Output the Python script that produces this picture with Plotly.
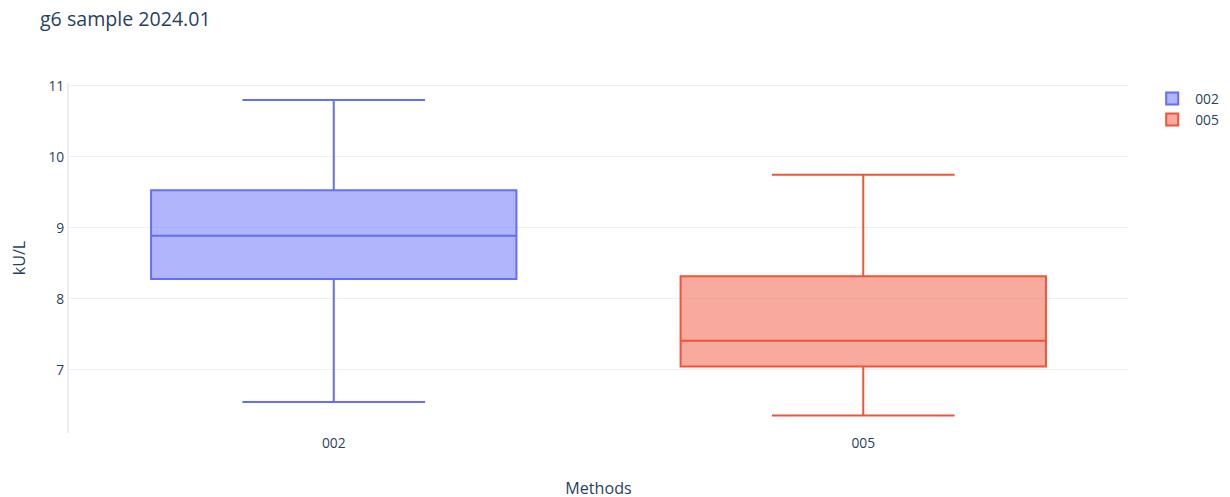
import plotly.graph_objects as go

methods = ["002", "005"]
q1_vals = [8.28, 7.05]
median_vals = [8.89, 7.41]
q3_vals = [9.53, 8.32]
lower_vals = [6.55, 6.36]
upper_vals = [10.80, 9.75]

fig = go.Figure()
for i, m in enumerate(methods):
    fig.add_trace(go.Box(
        name=m,
        x=[m],
        q1=[q1_vals[i]],
        median=[median_vals[i]],
        q3=[q3_vals[i]],
        lowerfence=[lower_vals[i]],
        upperfence=[upper_vals[i]],
        width=0.69,
    ))

fig.update_layout(
    template="plotly_white",
    width=1230, height=497,
    font=dict(size=13.8),
    title=dict(text="g6 sample 2024.01", x=0.026, y=1 - 11.5 / 497, yanchor="middle", font=dict(size=19.6)),
    margin=dict(l=61, r=110, t=75, b=72),
    legend=dict(font=dict(size=13.8), itemwidth=36),
    xaxis=dict(title=dict(text="Methods", standoff=31, font=dict(size=16.1)), type="category",
               range=[-0.5, 1.5], automargin=False),
    yaxis=dict(title=dict(text="kU/L", standoff=20, font=dict(size=16.1)), range=[6.113, 11.04], showline=True,
               linewidth=2, linecolor="#EBF0F8", automargin=False),
)
fig.write_html("out.html")
